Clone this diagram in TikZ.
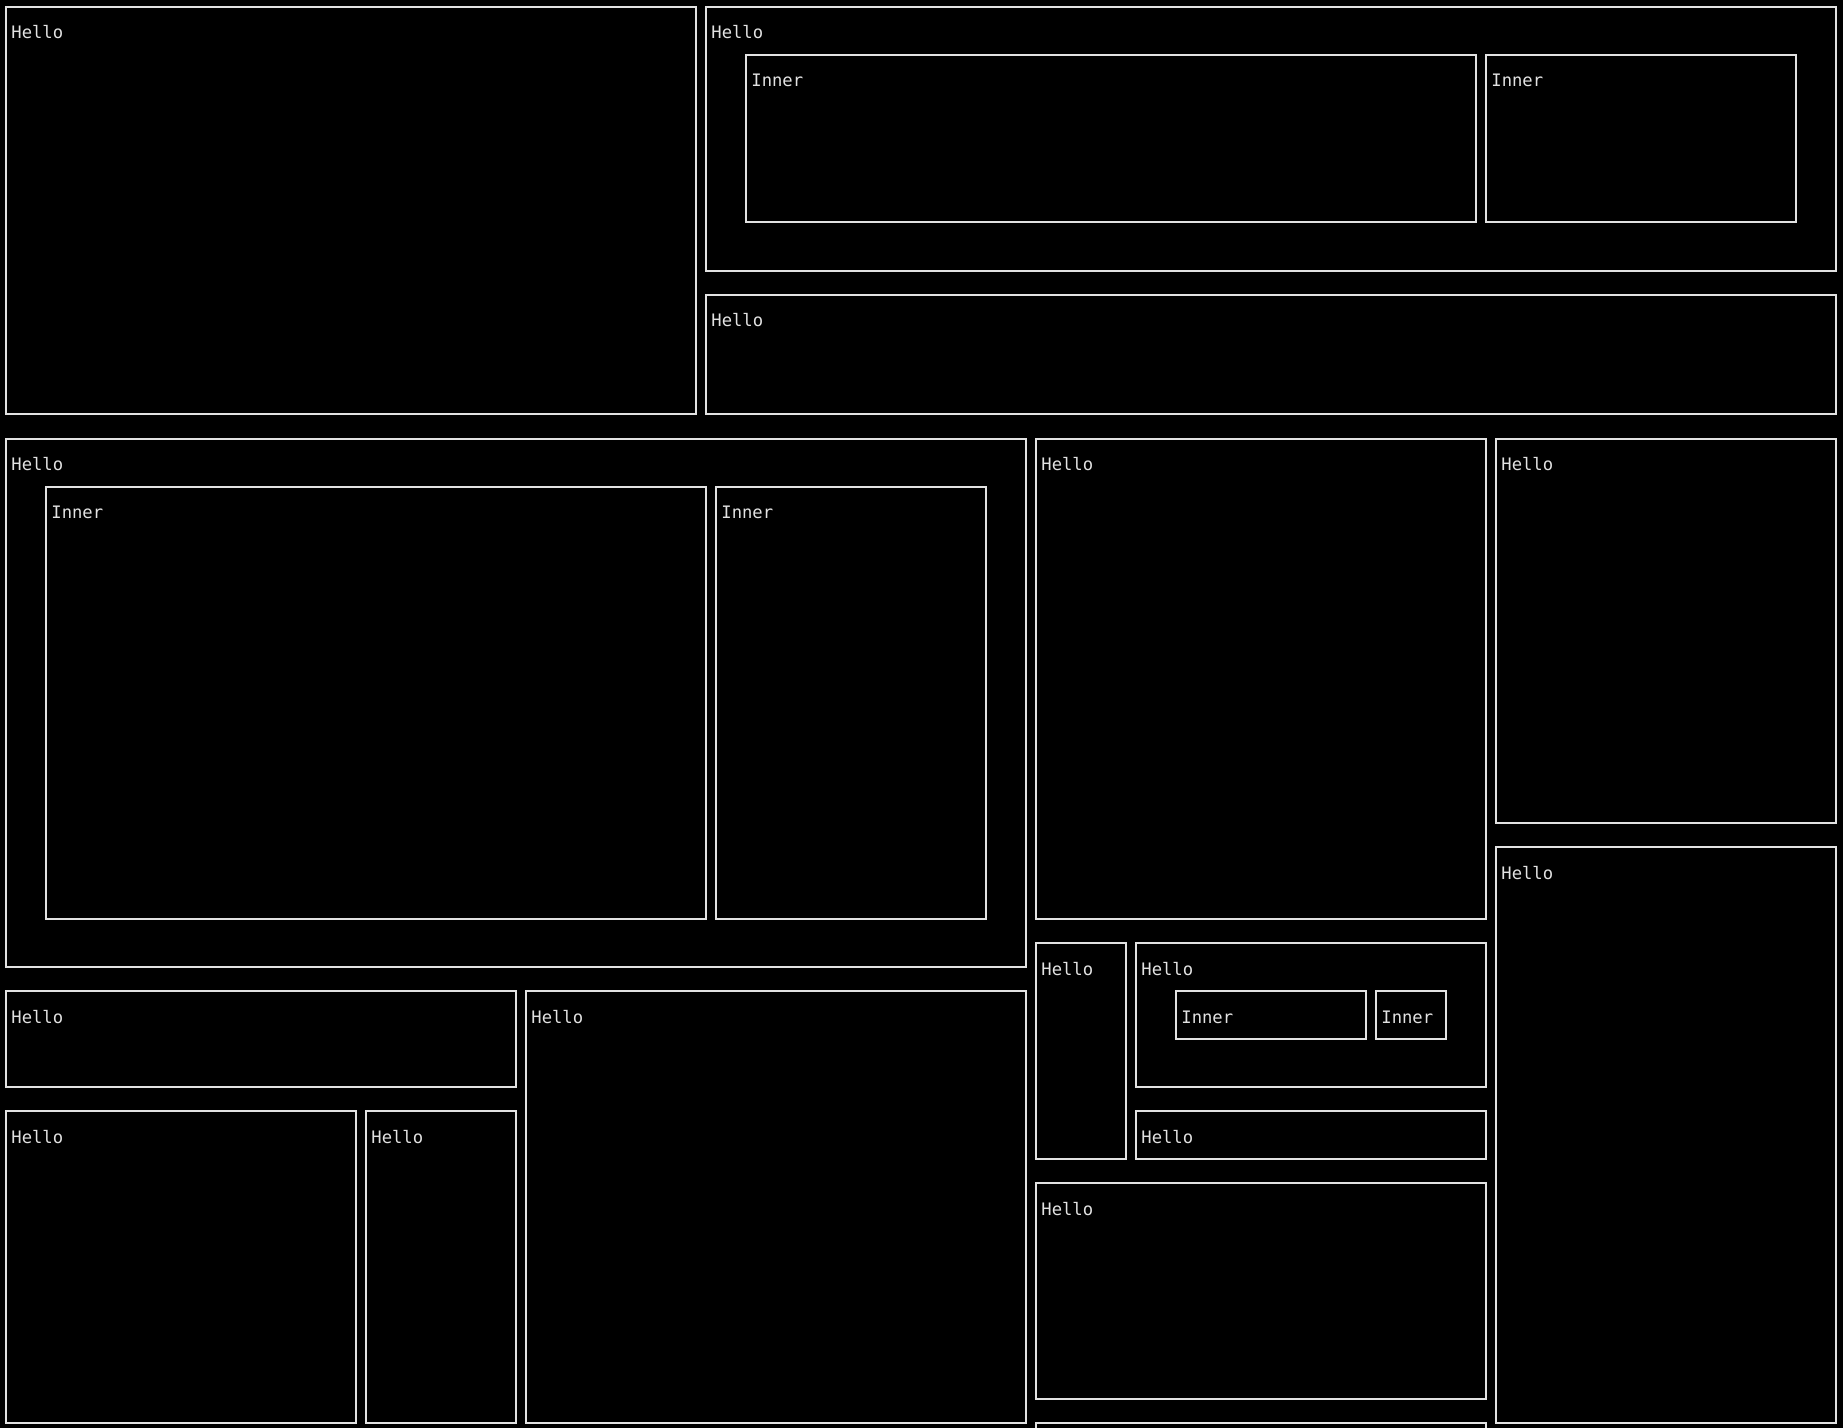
\documentclass[tikz,border=0pt]{standalone}
\usepackage{fontspec}
\setmonofont{DejaVu Sans Mono}
\definecolor{fg}{HTML}{E2E2E2}
\begin{document}
\begin{tikzpicture}[x=0.5pt, y=-0.5pt,
  panel/.style={draw=fg, line width=1pt},
  tag/.style={text=fg, anchor=base west, inner sep=0pt, font=\ttfamily\fontsize{8.6}{10}\selectfont}]

% Background
\fill[black] (0,0) rectangle (1843,1428);
\useasboundingbox (0,0) rectangle (1843,1428);
\clip (0,0) rectangle (1843,1428);

% Boxes
\draw[panel] (6,7) rectangle (696,414);
\draw[panel] (706,7) rectangle (1836,271);
\draw[panel] (746,55) rectangle (1476,222);
\draw[panel] (1486,55) rectangle (1796,222);
\draw[panel] (706,295) rectangle (1836,414);

\draw[panel] (6,439) rectangle (1026,967);
\draw[panel] (46,487) rectangle (706,919);
\draw[panel] (716,487) rectangle (986,919);
\draw[panel] (1036,439) rectangle (1486,919);
\draw[panel] (1496,439) rectangle (1836,823);
\draw[panel] (1496,847) rectangle (1836,1423);

\draw[panel] (6,991) rectangle (516,1087);
\draw[panel] (526,991) rectangle (1026,1423);
\draw[panel] (6,1111) rectangle (356,1423);
\draw[panel] (366,1111) rectangle (516,1423);

\draw[panel] (1036,943) rectangle (1126,1159);
\draw[panel] (1136,943) rectangle (1486,1087);
\draw[panel] (1176,991) rectangle (1366,1039);
\draw[panel] (1376,991) rectangle (1446,1039);
\draw[panel] (1136,1111) rectangle (1486,1159);
\draw[panel] (1036,1183) rectangle (1486,1399);
\draw[panel] (1036,1423) rectangle (1486,1460);

% Labels
\node[tag] (tA) at (11,39) {Hello};
\node[tag] (tB) at (711,39) {Hello};
\node[tag] (tB1) at (751,87) {Inner};
\node[tag] (tB2) at (1491,87) {Inner};
\node[tag] (tC) at (711,327) {Hello};

\node[tag] (tD) at (11,471) {Hello};
\node[tag] (tD1) at (51,519) {Inner};
\node[tag] (tD2) at (721,519) {Inner};
\node[tag] (tE) at (1041,471) {Hello};
\node[tag] (tF) at (1501,471) {Hello};
\node[tag] (tG) at (1501,879) {Hello};

\node[tag] (tH) at (11,1023) {Hello};
\node[tag] (tI) at (531,1023) {Hello};
\node[tag] (tJ) at (11,1143) {Hello};
\node[tag] (tK) at (371,1143) {Hello};

\node[tag] (tL) at (1041,975) {Hello};
\node[tag] (tM) at (1141,975) {Hello};
\node[tag] (tM1) at (1181,1023) {Inner};
\node[tag] (tM2) at (1381,1023) {Inner};
\node[tag] (tN) at (1141,1143) {Hello};
\node[tag] (tO) at (1041,1215) {Hello};

\end{tikzpicture}
\end{document}
